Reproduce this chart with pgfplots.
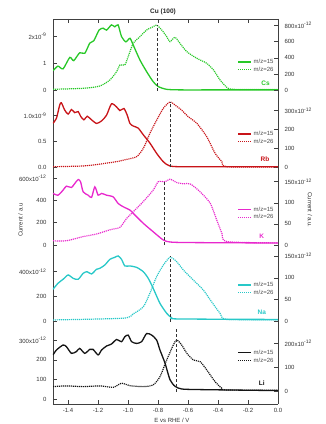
\documentclass[border=0pt]{standalone}
\usepackage{pgfplots}
\pgfplotsset{compat=1.18}
\usepackage{fontspec}
\setmainfont{Liberation Sans}

\definecolor{csgreen}{RGB}{40,200,40}
\definecolor{rbred}{RGB}{200,20,25}
\definecolor{kmag}{RGB}{232,40,205}
\definecolor{nacyan}{RGB}{40,200,200}
\definecolor{ligray}{RGB}{20,20,20}

\newcommand{\tkfont}{\fontsize{6}{7}\selectfont}
\newcommand{\sci}[1]{x10\textsuperscript{#1}}

\tikzset{tag/.style={font=\fontsize{6.5}{7}\selectfont\bfseries, text=#1}}

\pgfplotsset{
  stack/.style={scale only axis, width=225pt, height=77pt,
    xmin=-1.5, xmax=0, anchor=south west,
    tick align=inside, major tick length=4pt,
    axis line style={line width=0.6pt, black!75},
    tick style={line width=0.6pt, black!75},
    ticklabel style={font=\tkfont, text=black!80},
    scaled y ticks=false,
    xtick={-1.4,-1.2,-1.0,-0.8,-0.6,-0.4,-0.2,0}},
  leftax/.style={stack, axis y line*=left, yticklabel style={xshift=-3pt}},
  rightax/.style={stack, axis y line*=right, axis x line=none, yticklabel style={xshift=3pt}},
  curve/.style={line width=1.3pt, smooth, tension=0.4},
  dots/.style={line width=1.2pt, dash pattern=on 1.1pt off 0.9pt, smooth, tension=0.4},
  peak/.style={black!80, line width=0.8pt, dash pattern=on 3pt off 2pt, forget plot},
  mzlegend/.style={legend style={at={(0.99,#1)}, anchor=east, draw=none, fill=none,
      font=\tkfont, text=black!70, row sep=-2pt, inner sep=0pt,
      cells={anchor=west}},
    legend image code/.code={\draw[##1] (0pt,0pt) -- (13pt,0pt);}},
}

\begin{document}
\begin{tikzpicture}
\useasboundingbox (0,0) rectangle (326pt,424pt);

% ---------------- Cs ----------------
\begin{axis}[leftax, at={(53pt,328pt)}, axis x line*=top, xticklabels={},
  ymin=-0.194, ymax=2.626, ytick={0,1,2}, yticklabels={0,1,2\sci{-9}}]
\addplot[csgreen, curve] table {
-1.500 0.73
-1.467 0.90
-1.433 0.80
-1.388 1.22
-1.362 1.10
-1.322 1.39
-1.288 1.37
-1.255 1.74
-1.228 1.83
-1.193 2.22
-1.166 2.29
-1.143 2.22
-1.110 2.41
-1.088 2.34
-1.066 2.41
-1.043 1.98
-1.014 1.79
-0.987 1.92
-0.965 1.67
-0.920 1.12
-0.876 0.70
-0.832 0.33
-0.798 0.15
-0.742 0.05
-0.650 0.03
-0.400 0.03
0.000 0.03
};
\end{axis}
\begin{axis}[rightax, at={(53pt,328pt)}, mzlegend=0.39,
  ymin=-64.6, ymax=874, ytick={0,200,400,600,800}, yticklabels={0,200,400,600,800\sci{-12}}]
\addlegendimage{csgreen, line width=1.3pt}
\addlegendentry{m/z=15}
\addplot[csgreen, dots] table {
-1.500 17
-1.299 29
-1.188 57
-1.121 130
-1.076 232
-1.054 313
-1.021 313
-0.999 415
-0.965 578
-0.920 659
-0.876 740
-0.832 780
-0.809 800
-0.775 740
-0.742 659
-0.720 598
-0.687 651
-0.654 578
-0.608 476
-0.541 395
-0.475 334
-0.430 252
-0.386 130
-0.341 41
-0.297 17
0.000 15
};
\addlegendentry{m/z=26}
\addplot[peak] coordinates {(-0.805,0) (-0.805,800)};
\node[tag=csgreen] at (rel axis cs:0.945,0.165) {Cs};
\end{axis}

% ---------------- Rb ----------------
\begin{axis}[leftax, at={(53pt,251pt)}, axis x line=none,
  ymin=-0.110, ymax=1.382, ytick={0,0.5,1}, yticklabels={0.0,0.5,1.0\sci{-9}}]
\addplot[rbred, curve] table {
-1.500 0.853
-1.477 0.95
-1.455 1.21
-1.444 1.25
-1.422 1.11
-1.399 1.03
-1.377 1.12
-1.355 1.06
-1.332 1.08
-1.316 0.99
-1.294 0.92
-1.272 0.99
-1.243 0.92
-1.209 0.85
-1.176 0.90
-1.143 1.01
-1.110 1.23
-1.076 1.17
-1.054 1.10
-1.027 1.14
-1.005 1.01
-0.987 0.85
-0.965 0.80
-0.932 0.76
-0.898 0.63
-0.854 0.47
-0.809 0.27
-0.765 0.11
-0.720 0.025
-0.600 0.01
0.000 0.01
};
\end{axis}
\begin{axis}[rightax, at={(53pt,251pt)}, mzlegend=0.456,
  ymin=-30.2, ymax=377.9, ytick={0,100,200,300}, yticklabels={0,100,200,300\sci{-12}}]
\addlegendimage{rbred, line width=1.3pt}
\addlegendentry{m/z=15}
\addplot[rbred, dots] table {
-1.500 3
-1.299 7
-1.188 17
-1.076 30
-1.009 42
-0.943 56
-0.898 100
-0.854 180
-0.809 250
-0.765 312
-0.720 347
-0.687 330
-0.642 303
-0.598 268
-0.541 233
-0.475 162
-0.419 74
-0.374 30
-0.341 3
0.000 2
};
\addlegendentry{m/z=26}
\addplot[peak] coordinates {(-0.715,0) (-0.715,345)};
\node[tag=rbred] at (rel axis cs:0.942,0.18) {Rb};
\end{axis}

% ---------------- K ----------------
\begin{axis}[leftax, at={(53pt,174pt)}, axis x line=none,
  ymin=-45, ymax=647.5, ytick={0,200,400,600}, yticklabels={0,200,400,600\sci{-12}}]
\addplot[kmag, curve] table {
-1.500 464
-1.467 448
-1.433 493
-1.411 529
-1.377 517
-1.355 553
-1.332 589
-1.316 568
-1.299 478
-1.266 448
-1.243 428
-1.221 523
-1.199 448
-1.176 464
-1.143 448
-1.099 433
-1.066 374
-1.032 344
-0.987 314
-0.965 284
-0.898 195
-0.832 119
-0.765 45
-0.720 27
-0.600 22
0.000 18
};
\end{axis}
\begin{axis}[rightax, at={(53pt,174pt)}, mzlegend=0.474,
  ymin=-11.8, ymax=170.6, ytick={0,50,100,150}, yticklabels={0,50,100,150\sci{-12}}]
\addlegendimage{kmag, line width=1.3pt}
\addlegendentry{m/z=15}
\addplot[kmag, dots] table {
-1.500 10
-1.411 10
-1.299 20
-1.210 26
-1.121 36
-1.054 42
-1.009 63
-0.965 79
-0.898 103
-0.832 130
-0.798 150
-0.753 150
-0.720 156
-0.675 148
-0.631 145
-0.586 145
-0.519 126
-0.452 99
-0.408 59
-0.374 28
-0.341 8
0.000 5
};
\addlegendentry{m/z=26}
\addplot[peak] coordinates {(-0.758,0) (-0.758,152)};
\node[tag=kmag] at (rel axis cs:0.928,0.18) {K};
\end{axis}

% ---------------- Na ----------------
\begin{axis}[leftax, at={(53pt,97pt)}, axis x line=none,
  ymin=-42.4, ymax=573.6, ytick={0,200,400}, yticklabels={0,200,400\sci{-12}}]
\addplot[nacyan, curve] table {
-1.500 259
-1.467 307
-1.433 339
-1.399 374
-1.366 347
-1.332 339
-1.299 387
-1.273 400
-1.243 382
-1.210 419
-1.188 427
-1.154 454
-1.121 499
-1.088 515
-1.066 526
-1.043 499
-1.021 446
-0.987 446
-0.943 435
-0.898 400
-0.865 347
-0.832 267
-0.787 147
-0.742 67
-0.709 32
-0.665 22
0.000 18
};
\end{axis}
\begin{axis}[rightax, at={(53pt,97pt)}, mzlegend=0.496,
  ymin=-12.1, ymax=163.7, ytick={0,50,100,150}, yticklabels={0,50,100,150\sci{-12}}]
\addlegendimage{nacyan, line width=1.3pt}
\addlegendentry{m/z=15}
\addplot[nacyan, dots] table {
-1.500 4
-1.032 8
-0.965 18
-0.898 34
-0.854 65
-0.809 103
-0.765 129
-0.720 147
-0.675 137
-0.631 118
-0.564 95
-0.497 72
-0.452 50
-0.386 19
-0.341 5
0.000 4
};
\addlegendentry{m/z=26}
\addplot[peak] coordinates {(-0.715,0) (-0.715,150)};
\node[tag=nacyan] at (rel axis cs:0.928,0.186) {Na};
\end{axis}

% ---------------- Li ----------------
\begin{axis}[leftax, at={(53pt,20pt)}, axis x line*=bottom,
  xticklabels={-1.4,-1.2,-1.0,-0.8,-0.6,-0.4,-0.2,0.0},
  xticklabel style={yshift=-1pt},
  ymin=-22.7, ymax=366, ytick={0,100,200,300}, yticklabels={0,100,200,300\sci{-12}}]
\addplot[ligray, curve] table {
-1.500 225
-1.477 250
-1.433 275
-1.411 267
-1.377 233
-1.344 242
-1.322 258
-1.288 233
-1.255 253
-1.233 253
-1.199 225
-1.176 250
-1.143 270
-1.110 280
-1.076 303
-1.043 292
-1.021 317
-0.999 325
-0.976 292
-0.943 283
-0.909 292
-0.876 333
-0.842 325
-0.809 300
-0.787 250
-0.753 183
-0.720 100
-0.687 67
-0.642 53
-0.519 50
0.000 45
};
\end{axis}
\begin{axis}[rightax, at={(53pt,20pt)}, mzlegend=0.614,
  ymin=-50.8, ymax=267.4, ytick={0,100,200}, yticklabels={0,100,200\sci{-12}}]
\addlegendimage{ligray, line width=1.3pt}
\addlegendentry{m/z=15}
\addplot[ligray, dots] table {
-1.500 21
-1.411 24
-1.299 21
-1.188 24
-1.099 18
-1.043 35
-0.987 25
-0.898 21
-0.832 28
-0.787 62
-0.742 131
-0.698 193
-0.675 214
-0.642 193
-0.608 159
-0.564 131
-0.519 124
-0.475 90
-0.419 41
-0.374 14
-0.341 7
0.000 6
};
\addlegendentry{m/z=26}
\addplot[peak] coordinates {(-0.680,0) (-0.680,267)};
\node[tag=ligray] at (rel axis cs:0.928,0.27) {Li};
\end{axis}

% titles and axis labels
\node[font=\fontsize{6.5}{7}\selectfont\bfseries, text=black!85] at (163pt,412.5pt) {Cu (100)};
\node[font=\tkfont, text=black!80, rotate=90] at (20.5pt,204pt) {Current / a.u};
\node[font=\tkfont, text=black!80, rotate=-90] at (310pt,214pt) {Current / a.u.};
\node[font=\tkfont, text=black!80] at (172pt,4pt) {E vs RHE / V};
\end{tikzpicture}
\end{document}
